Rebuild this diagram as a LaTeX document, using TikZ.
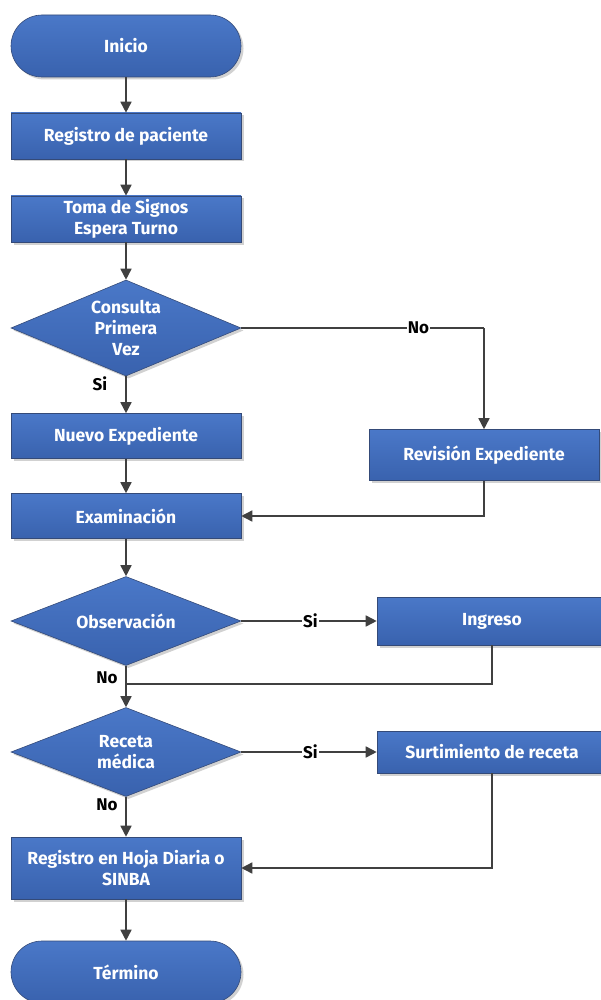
\documentclass[tikz,border=0pt]{standalone}
\usepackage{fontspec}
\setmainfont{Fira Sans}
\usetikzlibrary{arrows.meta,shapes.geometric,shadows}
\definecolor{boxtop}{RGB}{74,120,200}
\definecolor{boxbot}{RGB}{57,98,174}
\definecolor{boxline}{RGB}{52,74,120}
\definecolor{wire}{RGB}{64,64,64}
\tikzset{
  base/.style={top color=boxtop, bottom color=boxbot, draw=boxline, line width=0.6pt,
    text=white, font=\fontsize{17.5}{21}\selectfont\bfseries, align=center, inner sep=2pt,
    drop shadow={shadow xshift=2.5pt, shadow yshift=-2.5pt, fill=black, opacity=0.18}},
  procbox/.style={base, rectangle, minimum width=230pt},
  termbox/.style={base, rectangle, rounded corners=31pt, minimum width=230pt, minimum height=62pt},
  decbox/.style={base, diamond, aspect=2.4, inner sep=0pt, minimum width=230pt, minimum height=90pt},
  wireline/.style={draw=wire, line width=1.6pt},
  flow/.style={wireline, -{Triangle[length=11pt,width=11pt]}},
  lab/.style={font=\fontsize{17}{18}\selectfont\bfseries, text=black, fill=white, inner sep=1pt}
}
\begin{document}
\begin{tikzpicture}[x=1pt,y=-1pt]
\useasboundingbox (0,0) rectangle (600,1000);
\fill[white] (0,0) rectangle (600,1000);

% main column
\node[termbox] (ini) at (126,46) {Inicio};
\node[procbox, minimum height=46pt] (reg) at (126,136) {Registro de paciente};
\node[procbox, minimum height=46pt] (toma) at (126,219) {Toma de Signos\\Espera Turno};
\node[decbox, minimum height=96pt] (cons) at (126,328) {Consulta\\Primera\\Vez};
\node[procbox, minimum height=45pt] (nuevo) at (126,436) {Nuevo Expediente};
\node[procbox, minimum height=45pt] (exam) at (126,516) {Examinación};
\node[decbox, minimum height=89pt] (obs) at (126,621) {Observación};
\node[decbox, minimum height=89pt] (rec) at (126,752) {Receta\\médica};
\node[procbox, minimum height=62pt] (hoja) at (126,868) {Registro en Hoja Diaria o\\SINBA};
\node[termbox] (term) at (126,972) {Término};

% right column
\node[procbox, minimum height=51pt] (rev) at (484,455) {Revisión Expediente};
\node[procbox, minimum height=48pt] (ing) at (492,621) {Ingreso};
\node[procbox, minimum height=42pt] (surt) at (492,752) {Surtimiento de receta};

% branch labels beside the vertical lines
\node[lab, fill=none] (si1) at (100,384) {Si};
\node[lab, fill=none] (no2) at (107,678) {No};
\node[lab, fill=none] (no3) at (107,805) {No};

% junction points
\coordinate (c1) at (rev.north |- cons.east);
\coordinate (c2) at (rev.south |- exam.east);
\coordinate (c3) at (ing.south |- 0,684);
\coordinate (m3) at (obs.south |- 0,684);
\coordinate (c4) at (surt.south |- hoja.east);

% connectors
\draw[flow] (ini) -- (reg);
\draw[flow] (reg) -- (toma);
\draw[flow] (toma) -- (cons);
\draw[flow] (cons.south) -- (nuevo);
\draw[flow] (nuevo) -- (exam);
\draw[flow] (exam) -- (obs.north);
\draw[flow] (obs.south) -- (rec.north);
\draw[flow] (rec.south) -- (hoja);
\draw[flow] (hoja) -- (term);

\draw[wireline] (cons.east) -- node[lab, pos=0.73] (no1) {No} (c1);
\draw[flow] (c1) -- (rev.north);
\draw[flow] (rev.south) -- (c2) -- (exam.east);
\draw[flow] (obs.east) -- node[lab, pos=0.51] (si2) {Si} (ing.west);
\draw[wireline] (ing.south) -- (c3) -- (m3);
\draw[flow] (rec.east) -- node[lab, pos=0.51] (si3) {Si} (surt.west);
\draw[flow] (surt.south) -- (c4) -- (hoja.east);
\end{tikzpicture}
\end{document}
